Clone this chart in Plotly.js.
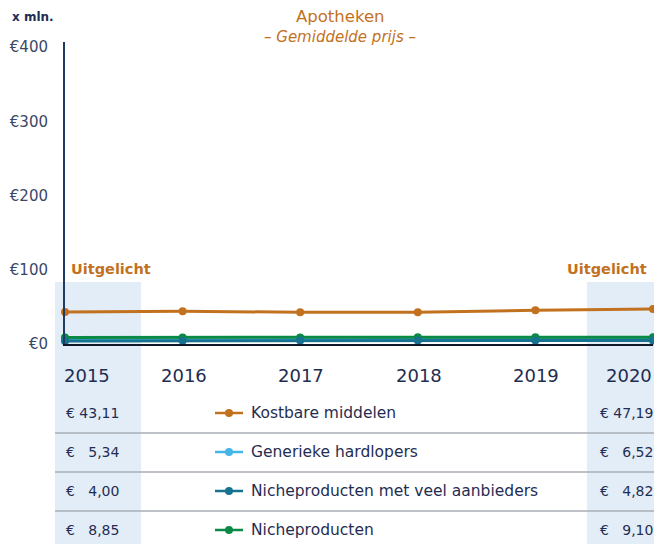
<!DOCTYPE html>
<html>
<head>
<meta charset="utf-8">
<script src="https://cdn.plot.ly/plotly-3.0.1.min.js"></script>
<style>html,body{margin:0;padding:0;background:#fff;}#chart{width:654px;height:544px;}</style>
</head>
<body>
<div id="chart"></div>
<script>
// ---- data ----
var years = [2015, 2016, 2017, 2018, 2019, 2020];
var seriesNames = ["Kostbare middelen", "Generieke hardlopers", "Nicheproducten met veel aanbieders", "Nicheproducten"];
var kostbareMiddelen = [43.11, 44.1, 42.8, 42.8, 45.5, 47.19];
var generiekeHardlopers = [5.34, 5.6, 5.9, 6.1, 6.3, 6.52];
var nicheVeelAanbieders = [4.00, 4.3, 4.6, 4.7, 4.8, 4.82];
var nicheproducten = [8.85, 8.6, 8.9, 9.0, 9.1, 9.10];
var yTickVals = [0, 100, 200, 300, 400];
var yTickText = ["€0", "€100", "€200", "€300", "€400"];
var highlightLabel = "Uitgelicht";
var unitLabel = "x mln.";
var titleText = "Apotheken";
var subtitleText = "– Gemiddelde prijs –";

// ---- styles ----
var colors = ["#c2721f", "#45b5e6", "#17728f", "#0b8a46"];
var navy = "#1f2d52";
var orange = "#c2721f";
var font = "DejaVu Sans, Verdana, sans-serif";
var allSeries = [kostbareMiddelen, generiekeHardlopers, nicheVeelAanbieders, nicheproducten];
var drawOrder = [0, 1, 3, 2];

var traces = drawOrder.map(function (i) {
  return {
    x: years, y: allSeries[i], name: seriesNames[i], type: "scatter", mode: "lines+markers",
    line: {color: colors[i], width: 3}, marker: {color: colors[i], size: 8},
    cliponaxis: false, showlegend: false, hoverinfo: "skip"
  };
});

function fmt(v) {
  var s = v.toFixed(2).replace(".", ",");
  return v < 10 ? "€\u00a0\u2007" + s : "€\u00a0" + s;
}

var L = 65, W = 588, T = 42, H = 302;
function px(x) { return (x - L) / W; }
function py(y) { return (T + H - y) / H; }

var shapes = [
  {type: "rect", xref: "paper", yref: "paper", x0: px(55), x1: px(141), y0: py(544), y1: py(282),
   fillcolor: "#e3edf8", line: {width: 0}, layer: "below"},
  {type: "rect", xref: "paper", yref: "paper", x0: px(587), x1: px(660), y0: py(544), y1: py(282),
   fillcolor: "#e3edf8", line: {width: 0}, layer: "below"}
];
[433, 472, 511].forEach(function (y) {
  shapes.push({type: "line", xref: "paper", yref: "paper", x0: px(55), x1: px(660), y0: py(y), y1: py(y),
    line: {color: "#a9aeb6", width: 1.5}});
});

var rowY = [413, 452, 491, 530];
var annotations = [
  {text: unitLabel, xref: "paper", yref: "paper", x: px(10), y: py(17), xanchor: "left", yanchor: "middle",
   showarrow: false, font: {family: font, size: 12, color: navy, weight: 600}},
  {text: titleText, xref: "paper", yref: "paper", x: px(340), y: py(17), xanchor: "center", yanchor: "middle",
   showarrow: false, font: {family: font, size: 16.5, color: orange}},
  {text: "<i>" + subtitleText + "</i>", xref: "paper", yref: "paper", x: px(340), y: py(37), xanchor: "center", yanchor: "middle",
   showarrow: false, font: {family: font, size: 15, color: orange}},
  {text: highlightLabel, xref: "paper", yref: "paper", x: px(69), y: py(269), xanchor: "left", yanchor: "middle",
   showarrow: false, font: {family: font, size: 14.5, color: orange, weight: 700}},
  {text: highlightLabel, xref: "paper", yref: "paper", x: px(649), y: py(269), xanchor: "right", yanchor: "middle",
   showarrow: false, font: {family: font, size: 14.5, color: orange, weight: 700}}
];
years.forEach(function (yr, i) {
  var shift = i === 0 ? 22 : (i === years.length - 1 ? -24 : 1);
  annotations.push({text: String(yr), xref: "x", yref: "paper", x: yr, xshift: shift, y: py(375),
    xanchor: "center", yanchor: "middle", showarrow: false, font: {family: font, size: 18, color: navy}});
});
allSeries.forEach(function (s, i) {
  var y = py(rowY[i]);
  annotations.push({text: fmt(s[0]), xref: "paper", yref: "paper", x: px(64), y: y, xanchor: "left", yanchor: "middle",
    showarrow: false, font: {family: font, size: 14, color: navy}});
  annotations.push({text: fmt(s[s.length - 1]), xref: "paper", yref: "paper", x: px(598), y: y, xanchor: "left", yanchor: "middle",
    showarrow: false, font: {family: font, size: 14, color: navy}});
  annotations.push({text: seriesNames[i], xref: "paper", yref: "paper", x: px(249), y: y, xanchor: "left", yanchor: "middle",
    showarrow: false, font: {family: font, size: 15.5, color: navy}});
  shapes.push({type: "line", xref: "paper", yref: "paper", x0: px(215), x1: px(243), y0: y, y1: y,
    line: {color: colors[i], width: 2.5}});
  shapes.push({type: "circle", xref: "paper", yref: "paper", xsizemode: "pixel", ysizemode: "pixel",
    xanchor: px(229), yanchor: y, x0: -4, x1: 4, y0: -4, y1: 4, fillcolor: colors[i], line: {width: 0}});
});

var layout = {
  width: 654, height: 544,
  margin: {l: L, r: 654 - L - W, t: T, b: 544 - T - H, pad: 0},
  paper_bgcolor: "#fff", plot_bgcolor: "rgba(0,0,0,0)",
  showlegend: false,
  xaxis: {range: [2015, 2020], showgrid: false, zeroline: false, showticklabels: false, ticks: "",
    showline: true, linecolor: "#111827", linewidth: 2, fixedrange: true},
  yaxis: {range: [0, 407], tickvals: yTickVals, ticktext: yTickText, showgrid: false, zeroline: false,
    showline: true, linecolor: "#1f3a66", linewidth: 2, ticks: "", ticklabelstandoff: 12,
    tickfont: {family: font, size: 15, color: "#3a4868"}, fixedrange: true},
  shapes: shapes, annotations: annotations
};

Plotly.newPlot("chart", traces, layout, {staticPlot: true, displayModeBar: false});
</script>
</body>
</html>
